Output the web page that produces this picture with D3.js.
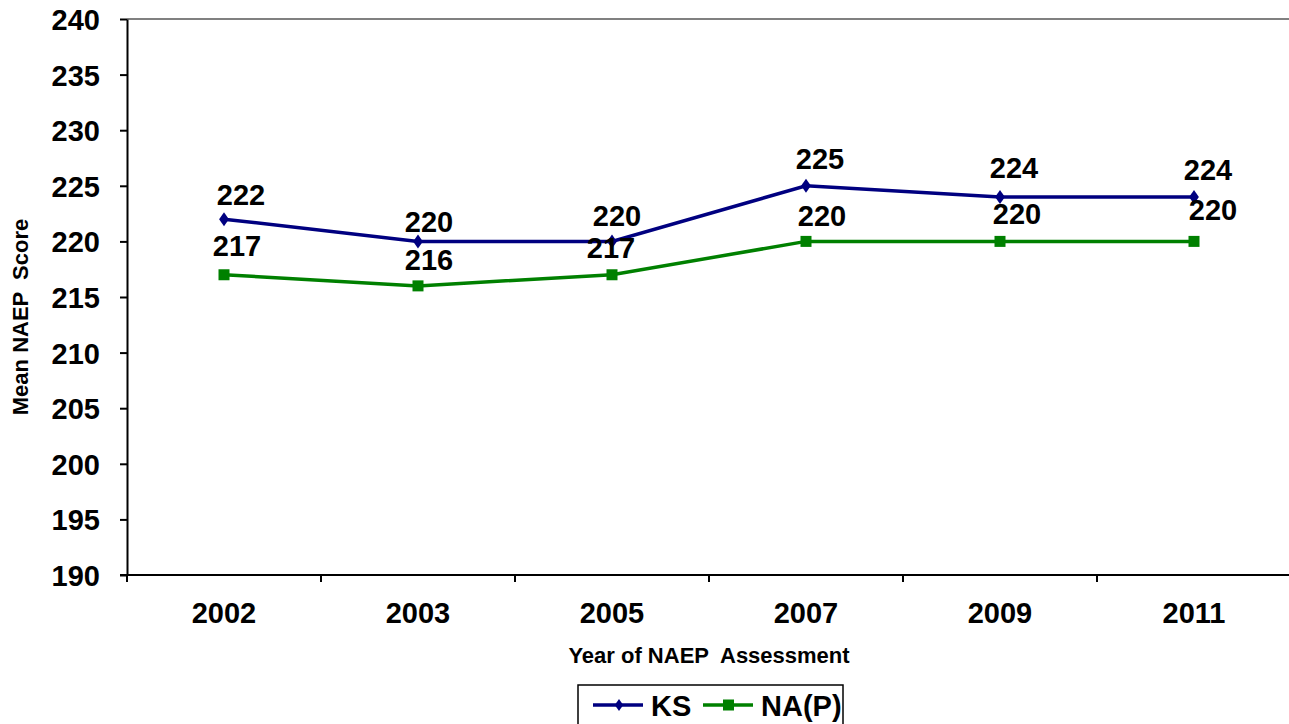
<!DOCTYPE html>
<html><head><meta charset="utf-8">
<script src="https://cdn.jsdelivr.net/npm/d3@7"></script>
<style>
html,body{margin:0;padding:0;background:#fff;}
svg{display:block;font-family:"Liberation Sans",Arial,sans-serif;}
</style></head>
<body>
<svg id="chart" width="1289" height="724"></svg>
<script>
const years = ["2002","2003","2005","2007","2009","2011"];
const ksValues = [222, 220, 220, 225, 224, 224];
const napValues = [217, 216, 217, 220, 220, 220];
const yTicks = [190,195,200,205,210,215,220,225,230,235,240];
const seriesNames = ["KS","NA(P)"];

const svg = d3.select("#chart");
const L = 127, T = 19, R = 1291, B = 575;
const x = d3.scaleBand().domain(years).range([L, R]).padding(0);
const y = d3.scaleLinear().domain([190, 240]).range([B, T]);

// plot border (top and right, gray)
svg.append("path").attr("d", `M${L},${T}H${R}V${B}`).attr("fill","none")
  .attr("stroke","#808080").attr("stroke-width",2);

// Y axis
const yAxis = d3.axisLeft(y).tickValues(yTicks).tickSize(7).tickPadding(20).tickSizeOuter(0);
const gy = svg.append("g").attr("transform",`translate(${L},0)`).call(yAxis);
gy.select(".domain").attr("stroke","#000").attr("stroke-width",2);
gy.selectAll(".tick line").attr("stroke","#000").attr("stroke-width",2);
gy.selectAll(".tick text").attr("font-size",29).attr("font-weight","bold").attr("fill","#000")
  .attr("font-family","Liberation Sans, Arial, sans-serif").attr("dy","0.36em");

// X axis: line + tick marks at band edges + labels at centers
const gx = svg.append("g").attr("transform",`translate(0,${B})`);
gx.append("line").attr("x1",L-7).attr("x2",R).attr("y1",0).attr("y2",0).attr("stroke","#000").attr("stroke-width",2);
const edges = years.map(d => x(d)).concat([x(years[years.length-1]) + x.bandwidth()]);
gx.selectAll("line.edge").data(edges).enter().append("line").attr("class","edge")
  .attr("x1",d=>d).attr("x2",d=>d).attr("y1",0).attr("y2",7).attr("stroke","#000").attr("stroke-width",2);
gx.selectAll("text.xl").data(years).enter().append("text").attr("class","xl")
  .attr("x",d=>x(d)+x.bandwidth()/2).attr("y",48).attr("text-anchor","middle")
  .attr("font-size",29).attr("font-weight","bold").text(d=>d);

// Axis titles
svg.append("text").attr("x",709).attr("y",663).attr("text-anchor","middle")
  .attr("font-size",22).attr("font-weight","bold").attr("xml:space","preserve").text("Year of NAEP  Assessment");
svg.append("text").attr("transform","translate(28,317) rotate(-90)").attr("text-anchor","middle")
  .attr("font-size",22).attr("font-weight","bold").attr("xml:space","preserve").text("Mean NAEP  Score");

const cx = d => x(d) + x.bandwidth()/2;
const line = d3.line().x(d=>cx(d.year)).y(d=>y(d.v));
const ks = years.map((yr,i)=>({year:yr,v:ksValues[i]}));
const nap = years.map((yr,i)=>({year:yr,v:napValues[i]}));

const colors = {KS:"#000080", NAP:"#008000"};
svg.append("path").datum(nap).attr("d",line).attr("fill","none").attr("stroke",colors.NAP).attr("stroke-width",3.5);
svg.append("path").datum(ks).attr("d",line).attr("fill","none").attr("stroke",colors.KS).attr("stroke-width",3.5);

const diamond = (s) => `M0,${-s}L${s*0.7},0L0,${s}L${-s*0.7},0Z`;
svg.selectAll("rect.nap").data(nap).enter().append("rect").attr("class","nap")
  .attr("x",d=>cx(d.year)-5.5).attr("y",d=>y(d.v)-5.5).attr("width",11).attr("height",11).attr("fill",colors.NAP);
svg.selectAll("path.ksm").data(ks).enter().append("path").attr("class","ksm")
  .attr("transform",d=>`translate(${cx(d.year)},${y(d.v)})`).attr("d",diamond(7)).attr("fill",colors.KS);

// data labels (label nudges for Excel-like placement)
const ksNudge = [[17,-14],[11,-9],[5,-15],[14,-17],[14,-19],[14,-17]];
const napNudge = [[13,-19],[11,-16],[-1,-17],[16,-15],[17,-17],[19,-21]];
svg.selectAll("text.ksl").data(ks).enter().append("text").attr("class","ksl")
  .attr("x",(d,i)=>cx(d.year)+ksNudge[i][0]).attr("y",(d,i)=>y(d.v)+ksNudge[i][1])
  .attr("text-anchor","middle").attr("font-size",29).attr("font-weight","bold").text(d=>d.v);
svg.selectAll("text.napl").data(nap).enter().append("text").attr("class","napl")
  .attr("x",(d,i)=>cx(d.year)+napNudge[i][0]).attr("y",(d,i)=>y(d.v)+napNudge[i][1])
  .attr("text-anchor","middle").attr("font-size",29).attr("font-weight","bold").text(d=>d.v);

// legend
const lg = svg.append("g");
lg.append("rect").attr("x",578).attr("y",685).attr("width",265).attr("height",50)
  .attr("fill","#fff").attr("stroke","#000").attr("stroke-width",1.5);
const legendItems = [
  {name:seriesNames[0], color:colors.KS, x0:593, type:"d"},
  {name:seriesNames[1], color:colors.NAP, x0:703, type:"s"}
];
legendItems.forEach(it=>{
  lg.append("line").attr("x1",it.x0).attr("x2",it.x0+50).attr("y1",705).attr("y2",705)
    .attr("stroke",it.color).attr("stroke-width",3.5);
  if(it.type==="d") lg.append("path").attr("transform",`translate(${it.x0+26},705)`).attr("d",diamond(6)).attr("fill",it.color);
  else lg.append("rect").attr("x",it.x0+20).attr("y",699.5).attr("width",11).attr("height",11).attr("fill",it.color);
  lg.append("text").attr("x",it.x0+58).attr("y",715.5).attr("font-size",29).attr("font-weight","bold").text(it.name);
});
</script>
</body></html>
